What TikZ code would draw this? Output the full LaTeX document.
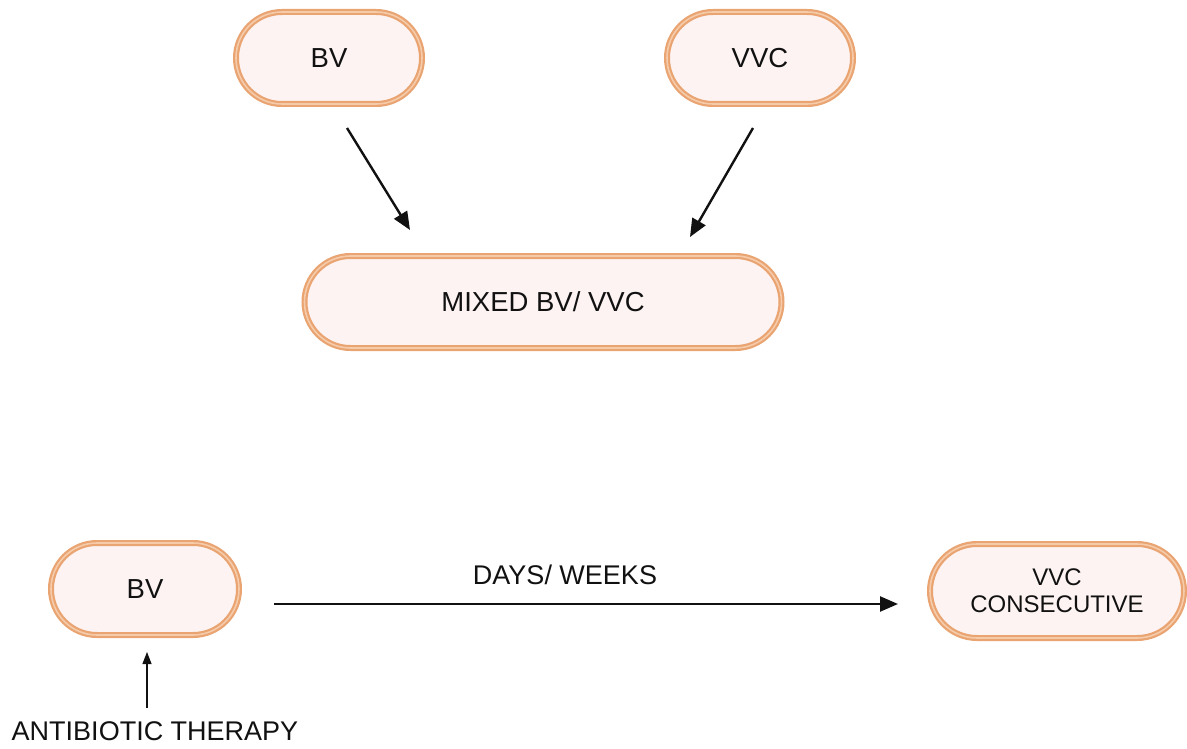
\documentclass[tikz,border=0pt]{standalone}
\usepackage{fontspec}
\setmainfont{Liberation Sans}
\usetikzlibrary{arrows.meta,shapes.misc}
\definecolor{pillfill}{HTML}{FDF3F2}
\definecolor{pillborder}{HTML}{E9A472}
\definecolor{pillinner}{HTML}{F5CBAA}
\definecolor{ink}{HTML}{111111}
\tikzset{
  pill/.style={rounded rectangle, draw=pillborder, fill=pillfill, line width=6pt,
    minimum height=#1, inner sep=0pt, font=\fontsize{27.5pt}{31pt}\selectfont, text=ink,
    postaction={draw=pillinner, line width=1.6pt}},
  pill/.default=92pt,
  arr/.style={draw=ink, line width=2.4pt, -{Triangle[length=18pt,width=15pt]}},
  thinarr/.style={draw=ink, line width=1.1pt, -{Triangle[length=12pt,width=9pt]}},
  lbl/.style={font=\fontsize{27pt}{31pt}\selectfont, text=ink, inner sep=0pt}
}
\begin{document}
\begin{tikzpicture}
\useasboundingbox (0,0) rectangle (1187pt,-749pt);
\node[pill, minimum width=186pt] (bv1) at (329pt,-58pt) {BV};
\node[pill, minimum width=186pt] (vvc1) at (760pt,-58pt) {VVC};
\node[pill, minimum width=477pt] (mixed) at (543pt,-302pt) {MIXED BV/ VVC};
\node[pill, minimum width=188pt] (bv2) at (145pt,-589pt) {BV};
\node[pill=94pt, minimum width=254pt, align=center, font=\fontsize{24pt}{27pt}\selectfont] (vvc2) at (1057pt,-591pt) {VVC\\CONSECUTIVE};
\node[lbl] (days) at (565pt,-575pt) {DAYS/ WEEKS};
\node[lbl, anchor=north] (ab) at (155pt,-721pt) {ANTIBIOTIC THERAPY};
\draw[arr] ([xshift=18pt,yshift=-21pt]bv1.south) -- ([xshift=-133pt,yshift=23pt]mixed.north);
\draw[arr] ([xshift=-7pt,yshift=-21pt]vvc1.south) -- ([xshift=147pt,yshift=16pt]mixed.north);
\draw[arr] ([xshift=32pt,yshift=-15pt]bv2.east) -- ([xshift=-29pt,yshift=-13pt]vvc2.west);
\draw[thinarr] ([xshift=-8pt,yshift=13pt]ab.north) -- ([xshift=2pt,yshift=-14pt]bv2.south);
\end{tikzpicture}
\end{document}
